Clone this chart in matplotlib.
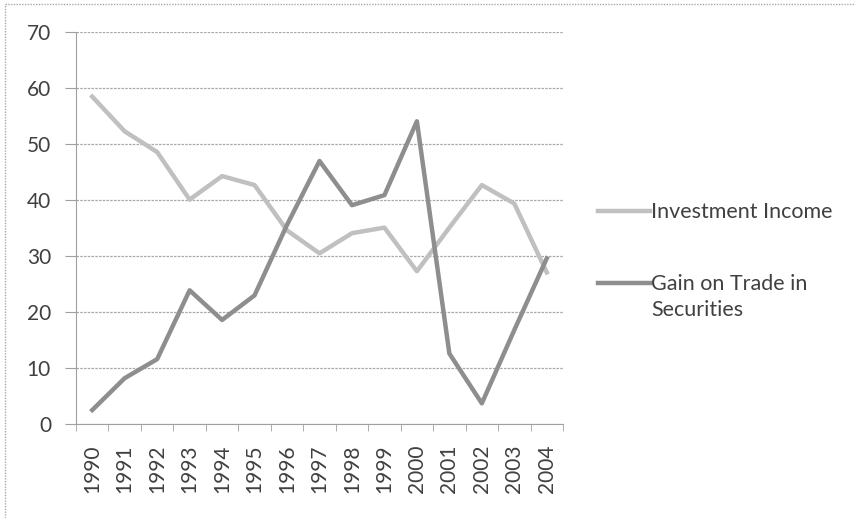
import matplotlib
matplotlib.use("Agg")
import matplotlib.pyplot as plt
from matplotlib.lines import Line2D

years = ["1990", "1991", "1992", "1993", "1994", "1995", "1996", "1997",
         "1998", "1999", "2000", "2001", "2002", "2003", "2004"]
investment_income = [58.4, 52.2, 48.5, 40.0, 44.2, 42.6, 34.5, 30.4,
                     34.0, 35.0, 27.2, 35.0, 42.6, 39.3, 27.0]
gain_on_trade = [2.4, 8.1, 11.5, 23.8, 18.5, 22.9, 35.5, 46.9,
                 39.0, 40.8, 54.0, 12.5, 3.6, 16.7, 29.5]
series_names = ["Investment Income", "Gain on Trade in\nSecurities"]
yticks = [0, 10, 20, 30, 40, 50, 60, 70]

plt.rcParams['font.family'] = ['Lato', 'DejaVu Sans']

W, H = 855, 518
fig = plt.figure(figsize=(W / 100, H / 100), dpi=100)
ax = fig.add_axes([76 / W, 1 - 423.5 / H, (563 - 76) / W, (423.5 - 31.7) / H])

x = list(range(len(years)))
c_inv = "#c0c0c0"
c_gain = "#8e8e8e"
ax.plot(x, investment_income, color=c_inv, lw=3.2, solid_joinstyle="round", zorder=3)
ax.plot(x, gain_on_trade, color=c_gain, lw=3.2, solid_joinstyle="round", zorder=4)

tick_fs = 15
ax.set_xlim(-0.5, len(years) - 0.5)
ax.set_ylim(0, 70)
ax.set_yticks(yticks)
ax.set_yticklabels([str(v) for v in yticks], fontsize=tick_fs, color="#404040")
ax.set_xticks(x)
ax.set_xticklabels(years, rotation=90, fontsize=tick_fs, color="#404040")
ax.tick_params(axis="x", length=0, pad=15)
ax.set_xticks([i - 0.5 for i in range(len(years) + 1)], minor=True)
ax.tick_params(axis="x", which="minor", length=5, color="#a0a0a0", direction="out")
ax.tick_params(axis="y", length=8, color="#a0a0a0", pad=10)

ax.grid(axis="y", color="#a8a8a8", lw=0.9, ls=(0, (2, 1)))
ax.set_axisbelow(True)
for s in ["top", "right"]:
    ax.spines[s].set_visible(False)
ax.spines["left"].set_color("#a0a0a0")
ax.spines["bottom"].set_color("#a0a0a0")

# legend
leg_fs = 15.5
fig.add_artist(Line2D([598 / W, 650 / W], [1 - 211 / H, 1 - 211 / H], color=c_inv, lw=3.2))
fig.text(651 / W, 1 - 212 / H, series_names[0], fontsize=leg_fs, color="#404040", va="center")
fig.add_artist(Line2D([598 / W, 650 / W], [1 - 283 / H, 1 - 283 / H], color=c_gain, lw=3.2))
fig.text(651 / W, 1 - 284 / H, series_names[1].split("\n")[0], fontsize=leg_fs, color="#404040", va="center")
fig.text(651 / W, 1 - 310 / H, series_names[1].split("\n")[1], fontsize=leg_fs, color="#404040", va="center")

# outer border (top and left visible)
fig.add_artist(Line2D([5 / W, 1], [1 - 4 / H, 1 - 4 / H], color="#a8a8a8", lw=1, ls=(0, (1, 1))))
fig.add_artist(Line2D([5 / W, 5 / W], [0, 1 - 4 / H], color="#a8a8a8", lw=1, ls=(0, (1, 1))))

fig.savefig("out.png", dpi=100)
